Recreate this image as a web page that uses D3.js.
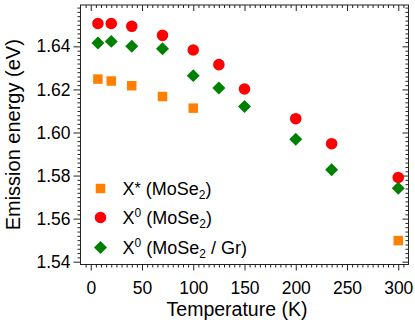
<!DOCTYPE html>
<html><head><meta charset="utf-8">
<script src="https://cdn.jsdelivr.net/npm/d3@7"></script>
<style>body{margin:0;background:#fff}svg{display:block}text{font-family:"Liberation Sans",Arial,sans-serif;fill:#000}</style>
</head><body>
<script>
const xTicks = [0, 50, 100, 150, 200, 250, 300];
const yTicks = [1.54, 1.56, 1.58, 1.60, 1.62, 1.64];
const tStar = [7, 20, 40, 70, 100, 300];
const eStar = [1.6248, 1.6239, 1.6217, 1.6167, 1.6113, 1.5498];
const tX0 = [7, 20, 40, 70, 100, 125, 150, 200, 235, 300];
const eX0 = [1.6506, 1.6506, 1.6493, 1.6451, 1.6383, 1.6315, 1.6202, 1.6064, 1.5948, 1.5791];
const tGr = [7, 20, 40, 70, 100, 125, 150, 200, 235, 300];
const eGr = [1.6416, 1.6423, 1.6400, 1.6389, 1.6264, 1.6207, 1.6121, 1.5969, 1.5827, 1.5741];

const W = 415, H = 322;
const L = 80.5, R = 408.5, T = 5, B = 264.5;
const FT = 17.5, FAX = 19.5, FAY = 20, FL = 18;
const svg = d3.select("body").append("svg").attr("width", W).attr("height", H);
const x = d3.scaleLinear().domain([-10, 310]).range([L, R]);
const y = d3.scaleLinear().domain([1.5387, 1.6592]).range([B, T]);

const minorX = d3.range(-5, 310, 5).filter(v => v % 50 !== 0);
const minorY = d3.range(0, 61).map(i => +(1.54 + i * 0.002).toFixed(3)).filter(v => v <= 1.659 && Math.round(v * 1000) % 20 !== 0);
const col = "#222";

function styleAxis(g) { g.select(".domain").remove(); g.selectAll("line").attr("stroke", col); }

// bottom
svg.append("g").attr("transform", `translate(0,${B})`).call(d3.axisBottom(x).tickValues(xTicks).tickSize(6).tickPadding(11).tickFormat(d3.format("d")))
  .call(styleAxis).call(g => g.selectAll("text").attr("font-size", FT).attr("font-family", "Liberation Sans, Arial"));
svg.append("g").attr("transform", `translate(0,${B})`).call(d3.axisBottom(x).tickValues(minorX).tickSize(3).tickFormat(""))
  .call(styleAxis);
// top (inward)
svg.append("g").attr("transform", `translate(0,${T})`).call(d3.axisBottom(x).tickValues(xTicks).tickSize(6).tickFormat("")).call(styleAxis);
svg.append("g").attr("transform", `translate(0,${T})`).call(d3.axisBottom(x).tickValues(minorX).tickSize(3).tickFormat("")).call(styleAxis);
// left
svg.append("g").attr("transform", `translate(${L},0)`).call(d3.axisLeft(y).tickValues(yTicks).tickSize(7).tickPadding(3).tickFormat(d3.format(".2f")))
  .call(styleAxis).call(g => g.selectAll("text").attr("font-size", FT).attr("font-family", "Liberation Sans, Arial"));
svg.append("g").attr("transform", `translate(${L},0)`).call(d3.axisLeft(y).tickValues(minorY).tickSize(3).tickFormat("")).call(styleAxis);
// right (inward)
svg.append("g").attr("transform", `translate(${R},0)`).call(d3.axisLeft(y).tickValues(yTicks).tickSize(6).tickFormat("")).call(styleAxis);
svg.append("g").attr("transform", `translate(${R},0)`).call(d3.axisLeft(y).tickValues(minorY).tickSize(3).tickFormat("")).call(styleAxis);

svg.append("rect").attr("x", L).attr("y", T).attr("width", R - L).attr("height", B - T)
  .attr("fill", "none").attr("stroke", col).attr("stroke-width", 1);

// axis titles
svg.append("text").attr("x", 237).attr("y", 316).attr("text-anchor", "middle").attr("font-size", FAX).text("Temperature (K)");
svg.append("text").attr("transform", `translate(20,${(T + B) / 2}) rotate(-90)`).attr("text-anchor", "middle").attr("font-size", FAY).text("Emission energy (eV)");

const cOr = "#ff8000", cRed = "#ff0000", cGr = "#008000";
const sq = d3.symbol().type(d3.symbolSquare).size(90);
const ci = d3.symbol().type(d3.symbolCircle).size(105);
const di = d3.symbol().type(d3.symbolSquare).size(84);

svg.append("g").selectAll("path").data(tStar.map((t, i) => [t, eStar[i]])).join("path")
  .attr("d", sq).attr("transform", d => `translate(${x(d[0])},${y(d[1])})`).attr("fill", cOr);
svg.append("g").selectAll("path").data(tX0.map((t, i) => [t, eX0[i]])).join("path")
  .attr("d", ci).attr("transform", d => `translate(${x(d[0])},${y(d[1])})`).attr("fill", cRed);
svg.append("g").selectAll("path").data(tGr.map((t, i) => [t, eGr[i]])).join("path")
  .attr("d", di).attr("transform", d => `translate(${x(d[0])},${y(d[1])}) rotate(45)`).attr("fill", cGr);

// legend
const leg = svg.append("g");
const items = [
  {sym: sq, c: cOr, rot: 0, y: 188.5, parts: [["X", ""], ["*", "sup*"], [" (MoSe", ""], ["2", "sub"], [")", ""]]},
  {sym: ci, c: cRed, rot: 0, y: 217.5, parts: [["X", ""], ["0", "sup"], [" (MoSe", ""], ["2", "sub"], [")", ""]]},
  {sym: di, c: cGr, rot: 45, y: 247.5, parts: [["X", ""], ["0", "sup"], [" (MoSe", ""], ["2", "sub"], [" / Gr)", ""]]}
];
items.forEach(it => {
  leg.append("path").attr("d", it.sym).attr("fill", it.c).attr("transform", `translate(100.5,${it.y}) rotate(${it.rot})`);
  const t = leg.append("text").attr("x", 122.5).attr("y", it.y + 6.5).attr("font-size", FL);
  let shift = 0;
  it.parts.forEach(p => {
    const ts = t.append("tspan").text(p[0]);
    let target = 0;
    if (p[1] === "sup") { ts.attr("font-size", 12); target = -7; }
    else if (p[1] === "sup*") { ts.attr("font-size", 16); target = -1; }
    else if (p[1] === "sub") { ts.attr("font-size", 12); target = 4; }
    ts.attr("dy", target - shift);
    shift = target;
  });
});
</script>
</body></html>
